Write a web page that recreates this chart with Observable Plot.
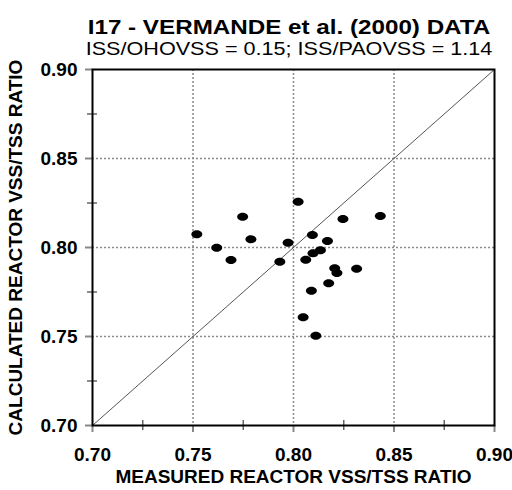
<!DOCTYPE html>
<html>
<head>
<meta charset="utf-8">
<script src="https://cdn.jsdelivr.net/npm/d3@7"></script>
<script src="https://cdn.jsdelivr.net/npm/@observablehq/plot@0.6"></script>
<style>
  body { margin: 0; background: #fff; font-family: "Liberation Sans", Arial, sans-serif; }
  #wrap { position: relative; width: 512px; height: 490px; background: #fff; }
  #head { position: relative; width: 512px; height: 50px; }
  .ttl { position: absolute; left: 0; width: 578px; text-align: center; white-space: nowrap; color: #000; transform-origin: 289px 50%; z-index: 2; }
  #title { top: 17px; font-size: 20px; line-height: 20px; font-weight: bold; transform: scaleX(1.21); }
  #subtitle { top: 40px; font-size: 18px; line-height: 18px; transform: scaleX(1.2); }
  svg { display: block; }
</style>
</head>
<body>
<div id="wrap">
  <div id="title" class="ttl"></div>
  <div id="subtitle" class="ttl"></div>
  <div id="head"></div>
  <div id="chart"></div>
</div>
<script>
const titleText = "I17 - VERMANDE et al. (2000) DATA";
const subtitleText = "ISS/OHOVSS = 0.15; ISS/PAOVSS = 1.14";
const xLabel = "MEASURED REACTOR VSS/TSS RATIO";
const yLabel = "CALCULATED REACTOR VSS/TSS RATIO";

const domainX = [0.70, 0.90];
const domainY = [0.70, 0.90];
const majorTicks = [0.70, 0.75, 0.80, 0.85, 0.90];
const minorTicks = [0.725, 0.775, 0.825, 0.875];
const gridVals = [0.75, 0.80, 0.85];
const identityLine = [0.70, 0.90];

const measured = [0.8023, 0.7747, 0.8246, 0.8432, 0.7519, 0.7788, 0.8094, 0.8169, 0.7973, 0.7618, 0.7689,
                  0.7932, 0.8061, 0.8097, 0.8134, 0.8205, 0.8216, 0.8314, 0.8175, 0.8089, 0.8048, 0.8111];
const calculated = [0.8257, 0.8173, 0.8160, 0.8177, 0.8074, 0.8046, 0.8070, 0.8037, 0.8027, 0.7999, 0.7930,
                    0.7920, 0.7931, 0.7967, 0.7984, 0.7883, 0.7857, 0.7881, 0.7799, 0.7757, 0.7608, 0.7504];

document.getElementById("title").textContent = titleText;
document.getElementById("subtitle").textContent = subtitleText;

const rows = measured.map((m, i) => ({m, c: calculated[i]}));

const ellipse = {
  draw(ctx) {
    const rx = 5.5, ry = 4, k = 0.5523;
    ctx.moveTo(rx, 0);
    ctx.bezierCurveTo(rx, ry * k, rx * k, ry, 0, ry);
    ctx.bezierCurveTo(-rx * k, ry, -rx, ry * k, -rx, 0);
    ctx.bezierCurveTo(-rx, -ry * k, -rx * k, -ry, 0, -ry);
    ctx.bezierCurveTo(rx * k, -ry, rx, -ry * k, rx, 0);
    ctx.closePath();
  }
};

const chart = Plot.plot({
  width: 512,
  height: 440,
  marginTop: 19,
  marginBottom: 65,
  marginLeft: 92,
  marginRight: 18,
  style: {fontFamily: "Liberation Sans, Arial, sans-serif", fontSize: "19px", fontWeight: "bold", background: "white", color: "black"},
  x: {domain: domainX, label: null},
  y: {domain: domainY, label: null},
  marks: [
    Plot.ruleX(gridVals, {x: d => d, stroke: "#8a8a8a", strokeWidth: 1.5, strokeDasharray: "2,2"}),
    Plot.ruleY(gridVals, {y: d => d, stroke: "#8a8a8a", strokeWidth: 1.5, strokeDasharray: "2,2"}),
    Plot.line(identityLine, {x: d => d, y: d => d, stroke: "#555", strokeWidth: 1}),
    Plot.dot(rows, {x: "m", y: "c", symbol: ellipse, fill: "black", stroke: null}),
    Plot.ruleX(minorTicks, {x: d => d, y1: () => domainY[0], y2: () => domainY[0], insetTop: -5, insetBottom: -5, stroke: "#666", strokeWidth: 1.5}),
    Plot.ruleY(minorTicks, {y: d => d, x1: () => domainX[0], x2: () => domainX[0], insetLeft: -5, insetRight: -5, stroke: "#666", strokeWidth: 1.5}),
    Plot.axisX({ticks: majorTicks, tickSize: 7, tickPadding: 15, tickFormat: d => d.toFixed(2), stroke: "#888", strokeWidth: 2, fill: "black", label: null}),
    Plot.axisY({ticks: majorTicks, tickSize: 7, tickPadding: 8, tickFormat: d => d.toFixed(2), stroke: "#888", strokeWidth: 2, fill: "black", label: null}),
    Plot.frame({stroke: "black", strokeWidth: 2}),
    Plot.text([xLabel], {text: d => d, frameAnchor: "bottom", textAnchor: "middle", lineAnchor: "middle", dy: 51.5, fill: "black"}),
    Plot.text([yLabel], {text: d => d, frameAnchor: "left", textAnchor: "middle", lineAnchor: "middle", rotate: -90, dx: -76.5, fill: "black"})
  ]
});
document.getElementById("chart").appendChild(chart);
</script>
</body>
</html>
